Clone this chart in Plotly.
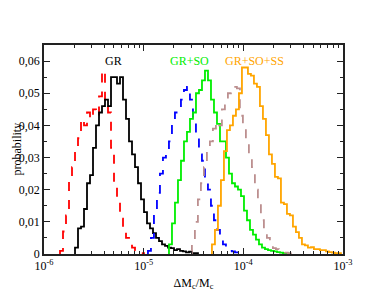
import numpy as np
import plotly.graph_objects as go

# log10 bin width (decades)
BIN_W = 0.0301

# left edge (log10) of first bin for each series
gr1_start = -5.8395
gr2_start = -5.689
so1_start = -4.957
so2_start = -4.746
ss1_start = -4.516
ss2_start = -4.315

gr1_vals = [0.001, 0.007, 0.012, 0.024, 0.027, 0.033, 0.036, 0.042, 0.040, 0.044, 0.042, 0.045,
            0.043, 0.049, 0.057, 0.047, 0.044, 0.033, 0.021, 0.016, 0.011, 0.008, 0.005, 0.0035,
            0.002, 0.001, 0.0008, 0.0003]
gr2_vals = [0.002, 0.008, 0.0085, 0.014, 0.022, 0.0245, 0.033, 0.040, 0.044, 0.046, 0.048, 0.046,
            0.055, 0.055, 0.053, 0.055, 0.048, 0.042, 0.035, 0.031, 0.027, 0.022, 0.017, 0.013,
            0.0095, 0.008, 0.0065, 0.005, 0.004, 0.003, 0.0025, 0.002, 0.0018, 0.0012, 0.0015,
            0.001, 0.0008, 0.0005, 0.0007, 0.0003, 0.0003]
so1_vals = [0.001, 0.005, 0.013, 0.019, 0.025, 0.030, 0.032, 0.035, 0.041, 0.044, 0.044, 0.048,
            0.051, 0.052, 0.048, 0.041, 0.036, 0.031, 0.029, 0.022, 0.020, 0.015, 0.0105, 0.0075,
            0.0045, 0.003, 0.002, 0.001, 0.0008, 0.0005, 0.0003, 0.0003]
so2_vals = [0.003, 0.0095, 0.016, 0.023, 0.029, 0.035, 0.038, 0.042, 0.044, 0.050, 0.051, 0.054,
            0.057, 0.054, 0.048, 0.044, 0.0405, 0.035, 0.035, 0.030, 0.025, 0.022, 0.021, 0.020,
            0.018, 0.0135, 0.0105, 0.0075, 0.006, 0.0045, 0.003, 0.002, 0.0015, 0.0012, 0.001,
            0.0008, 0.0006, 0.0004, 0.0003, 0.0002]
ss1_vals = [0.004, 0.010, 0.017, 0.022, 0.027, 0.032, 0.035, 0.039, 0.041, 0.040, 0.045, 0.048,
            0.050, 0.051, 0.052, 0.0515, 0.043, 0.039, 0.035, 0.030, 0.027, 0.020, 0.016, 0.0105,
            0.0068, 0.005, 0.0033, 0.0018, 0.0015, 0.001, 0.0006, 0.0004, 0.0002]
ss2_vals = [0.003, 0.0075, 0.015, 0.023, 0.032, 0.0385, 0.040, 0.043, 0.045, 0.050, 0.058, 0.058,
            0.056, 0.0555, 0.053, 0.052, 0.046, 0.042, 0.037, 0.031, 0.028, 0.024, 0.0235, 0.016,
            0.0155, 0.0125, 0.012, 0.0085, 0.0068, 0.005, 0.003, 0.0027, 0.002, 0.0021, 0.0015,
            0.0015, 0.0012, 0.0012, 0.0008, 0.0006, 0.0004, 0.0003, 0.0003]

y_tickvals = [0, 0.01, 0.02, 0.03, 0.04, 0.05, 0.06]
y_ticktext = ["0", "0,01", "0,02", "0,03", "0,04", "0,05", "0,06"]
x_tickvals = [1e-6, 1e-5, 1e-4, 1e-3]
x_ticktext = ["10<sup>-6</sup>", "10<sup>-5</sup>", "10<sup>-4</sup>", "10<sup>-3</sup>"]

labels = ["GR", "GR+SO", "GR+SO+SS"]
label_colors = ["black", "#00ee00", "#ffa500"]
label_logx = [-5.30, -4.536, -3.89]
label_y = 0.06

FONT = "Liberation Serif, Times New Roman, serif"


def step_xy(start, vals):
    edges = 10 ** (start + BIN_W * np.arange(len(vals) + 1))
    xs = [edges[0]] + list(edges[:len(vals)]) + [edges[-1]]
    ys = [0] + list(vals) + [0]
    return xs, ys


series = [
    (gr1_start, gr1_vals, "#ff0000", "dash"),
    (gr2_start, gr2_vals, "black", "solid"),
    (so1_start, so1_vals, "#0000ff", "dash"),
    (so2_start, so2_vals, "#00ee00", "solid"),
    (ss1_start, ss1_vals, "#bc8f8f", "dash"),
    (ss2_start, ss2_vals, "#ffa500", "solid"),
]

fig = go.Figure()
for start, vals, col, dash in series:
    xs, ys = step_xy(start, vals)
    fig.add_trace(go.Scatter(x=xs, y=ys, mode="lines", line=dict(color=col, width=1.8, dash=dash, shape="hv"),
                             showlegend=False, hoverinfo="skip"))

for txt, lx, col in zip(labels, label_logx, label_colors):
    fig.add_annotation(x=lx, y=label_y, text=txt, showarrow=False, xref="x", yref="y",
                       font=dict(family=FONT, size=12, color=col))

# y-axis title placed as a rotated annotation left of the tick labels
fig.add_annotation(x=-0.1204, y=0.5, xref="paper", yref="paper", text="probability", textangle=-90,
                   showarrow=False, xanchor="left", yanchor="middle", borderpad=0,
                   font=dict(family=FONT, size=12, color="black"))

minor_vals = [k * 10.0 ** e for e in (-6, -5, -4) for k in range(2, 10)]

# the page body adds an 8px offset; margins compensate so the plot area lands at 44..343 x 45..254
fig.update_layout(
    width=387, height=299,
    margin=dict(l=36, r=52, t=37, b=53),
    paper_bgcolor="white", plot_bgcolor="white",
    font=dict(family=FONT, size=12, color="black"),
    xaxis=dict(type="log", range=[-6, -3], showgrid=False, zeroline=False, automargin=False,
               showline=True, linecolor="#222", linewidth=1.5, mirror="ticks",
               ticks="inside", ticklen=6, tickwidth=1, tickcolor="#222",
               tickvals=x_tickvals, ticktext=x_ticktext, tickfont=dict(size=12),
               minor=dict(tickvals=minor_vals, ticks="inside", ticklen=3, tickcolor="#222", showgrid=False),
               title=dict(text="ΔM<sub>c</sub>/M<sub>c</sub>", font=dict(size=12), standoff=6)),
    yaxis=dict(range=[0, 0.065], showgrid=False, zeroline=False, automargin=False,
               showline=True, linecolor="#222", linewidth=1.5, mirror="ticks",
               ticks="inside", ticklen=6, tickwidth=1, tickcolor="#222",
               tickvals=y_tickvals, ticktext=y_ticktext, tickfont=dict(size=12),
               minor=dict(dtick=0.005, ticks="inside", ticklen=3, tickcolor="#222", showgrid=False)),
)

fig.write_html("out.html")
